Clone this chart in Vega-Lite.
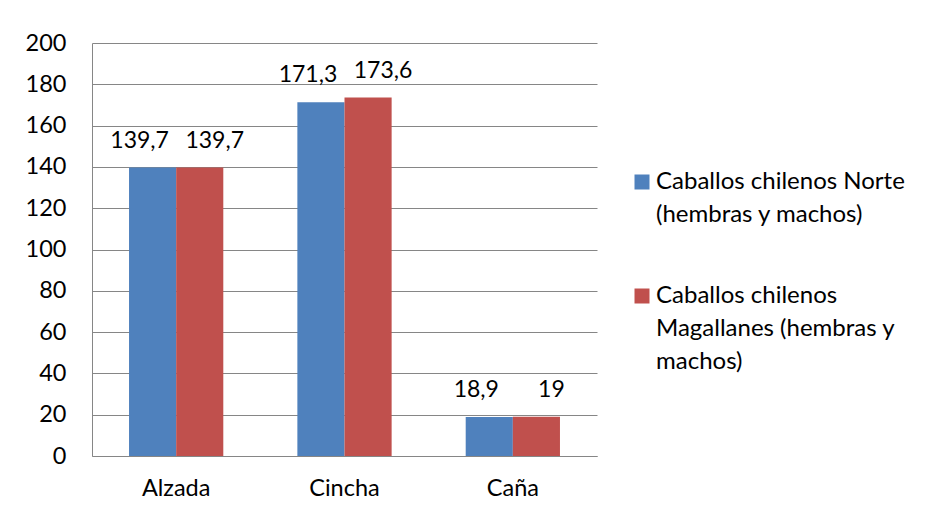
{
  "$schema": "https://vega.github.io/schema/vega-lite/v6.json",
  "width": 505,
  "height": 413,
  "autosize": "none",
  "padding": {"left": 92, "top": 43, "right": 335, "bottom": 63},
  "background": "white",
  "config": {
    "locale": {"number": {"decimal": ",", "thousands": ".", "grouping": [3], "currency": ["", " €"]}},
    "view": {"stroke": null},
    "font": "Lato",
    "style": {"guide-label": {"lineHeight": 33}},
    "axis": {"labelFont": "Lato", "labelColor": "#000", "labelFontSize": 23.5, "ticks": false, "domainColor": "#868686", "gridColor": "#868686", "title": null},
    "legend": {"labelFont": "Lato", "labelColor": "#000", "labelFontSize": 24}
  },
  "data": {"values": [
    {"medida": "Alzada", "grupo": "Norte", "valor": 139.7},
    {"medida": "Alzada", "grupo": "Magallanes", "valor": 139.7},
    {"medida": "Cincha", "grupo": "Norte", "valor": 171.3},
    {"medida": "Cincha", "grupo": "Magallanes", "valor": 173.6},
    {"medida": "Caña", "grupo": "Norte", "valor": 18.9},
    {"medida": "Caña", "grupo": "Magallanes", "valor": 19}
  ]},
  "encoding": {
    "x": {"field": "medida", "type": "nominal", "sort": ["Alzada", "Cincha", "Caña"],
      "scale": {"paddingInner": 0.44, "paddingOuter": 0.22},
      "axis": {"labelAngle": 0, "labelPadding": 20, "grid": false, "domainColor": "#868686"}},
    "xOffset": {"field": "grupo", "type": "nominal", "sort": ["Norte", "Magallanes"], "scale": {"paddingInner": 0, "paddingOuter": 0}},
    "y": {"field": "valor", "type": "quantitative", "scale": {"domain": [0, 200]},
      "axis": {"values": [0, 20, 40, 60, 80, 100, 120, 140, 160, 180, 200], "labelPadding": 26, "grid": true, "domain": true}}
  },
  "layer": [
    {
      "mark": {"type": "bar"},
      "encoding": {
        "color": {"field": "grupo", "type": "nominal",
          "scale": {"domain": ["Norte", "Magallanes"], "range": ["#4F81BD", "#C0504D"]},
          "legend": {"title": null, "orient": "none", "legendX": 538, "legendY": 127, "padding": 0,
            "symbolType": "square", "symbolSize": 225, "symbolStrokeWidth": 0, "labelLimit": 400,
            "labelOffset": 2, "rowPadding": 57, "labelBaseline": "middle",
            "labelExpr": "datum.value == 'Norte' ? ['\u2009Caballos chilenos Norte', '(hembras y machos)'] : ['Caballos chilenos', 'Magallanes (hembras y', 'machos)']"}
        }
      }
    },
    {
      "transform": [{"filter": "datum.grupo == 'Norte'"}],
      "mark": {"type": "text", "baseline": "middle", "dy": -27, "dx": -13, "fontSize": 23, "font": "Lato", "color": "#000"},
      "encoding": {"text": {"field": "valor", "type": "quantitative", "format": ".4~g"}}
    },
    {
      "transform": [{"filter": "datum.grupo == 'Magallanes'"}],
      "mark": {"type": "text", "baseline": "middle", "dy": -27, "dx": 15, "fontSize": 23, "font": "Lato", "color": "#000"},
      "encoding": {"text": {"field": "valor", "type": "quantitative", "format": ".4~g"}}
    }
  ]
}
